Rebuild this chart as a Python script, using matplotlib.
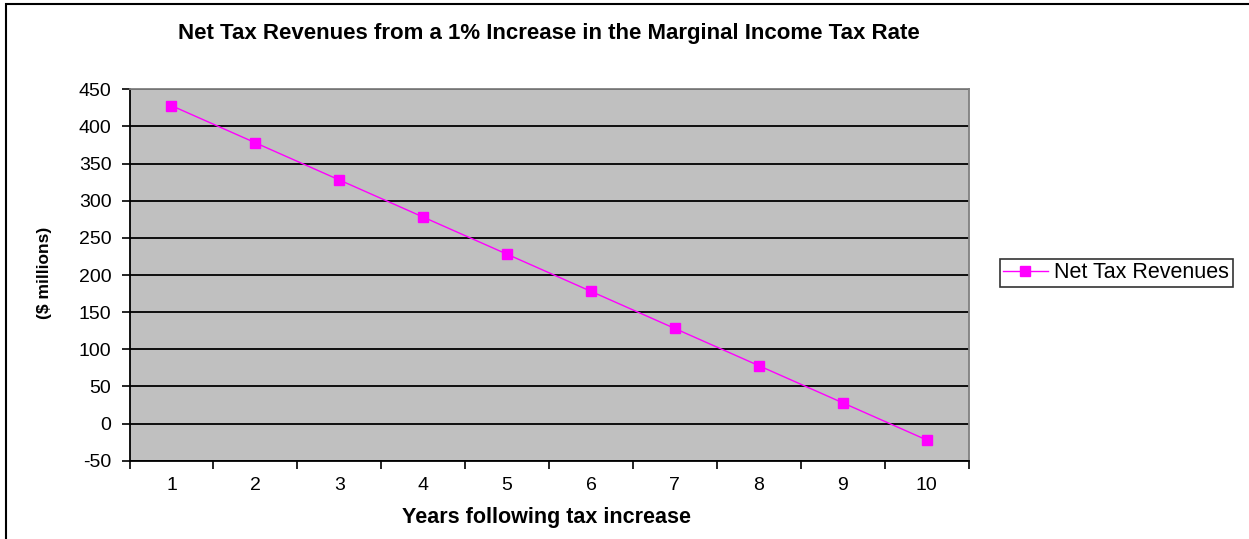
import matplotlib
matplotlib.use("Agg")
import matplotlib.pyplot as plt
from matplotlib.patches import Rectangle
import numpy as np

years = [1, 2, 3, 4, 5, 6, 7, 8, 9, 10]
net_tax_revenues = [428, 378, 328, 278, 228, 178, 128, 78, 28, -22]
y_ticks = [-50, 0, 50, 100, 150, 200, 250, 300, 350, 400, 450]
title = "Net Tax Revenues from a 1% Increase in the Marginal Income Tax Rate"
series_name = "Net Tax Revenues"
x_label = "Years following tax increase"
y_label = "($ millions)"

plt.rcParams['font.family'] = ['Liberation Sans', 'DejaVu Sans']
plt.rcParams['axes.unicode_minus'] = False

W, H = 1249, 539
fig = plt.figure(figsize=(W / 100, H / 100), dpi=100)
fig.patch.set_facecolor("white")

# outer chart border (only left/top visible in the reference)
fig.add_artist(Rectangle((6 / W, -0.1), 1.2, (539 - 4) / H + 0.1,
                         transform=fig.transFigure, fill=False,
                         edgecolor="black", linewidth=1.5))

ax = fig.add_axes([129.5 / W, 78.3 / H, (968.5 - 129.5) / W, (460.7 - 89.3) / H])
ax.set_facecolor("#C0C0C0")

ax.plot(years, net_tax_revenues, color="#FF00FF", linewidth=1.0,
        marker="s", markersize=6.5, markerfacecolor="#FF00FF",
        markeredgecolor="#FF00FF", label=series_name, zorder=3)

ax.set_xlim(0.5, 10.5)
ax.set_ylim(-50, 450)
ax.set_yticks(y_ticks)
ax.set_xticks(np.arange(0.5, 11, 1.0))
ax.set_xticklabels([])
ax.set_xticks(years, minor=True)
ax.set_xticklabels([str(y) for y in years], minor=True, fontsize=14)
ax.tick_params(axis="x", which="minor", length=0, pad=12)
ax.tick_params(axis="x", which="major", length=6, width=1.2, direction="out", color="black")
ax.tick_params(axis="y", length=6, width=1.2, direction="out", labelsize=14, pad=7)

ax.yaxis.grid(True, color="black", linewidth=1.3)
ax.set_axisbelow(True)

for s in ["left", "bottom"]:
    ax.spines[s].set_color("black")
    ax.spines[s].set_linewidth(1.3)
for s in ["top", "right"]:
    ax.spines[s].set_color("#808080")
    ax.spines[s].set_linewidth(1.3)

fig.text(549 / W, 1 - 34 / H, title, ha="center", va="center",
         fontsize=16, fontweight="bold")
fig.text(547 / W, 1 - 517 / H, x_label, ha="center", va="center",
         fontsize=15.5, fontweight="bold")
fig.text(45 / W, 1 - 273 / H, y_label, ha="center", va="center",
         rotation=90, fontsize=12.5, fontweight="bold")

leg = fig.legend(loc="center", bbox_to_anchor=(1116 / W, 1 - 273 / H),
                 fontsize=15.5, frameon=True, fancybox=False,
                 edgecolor="black", borderpad=0.15, handlelength=2.1,
                 handletextpad=0.3, borderaxespad=0)
leg.get_frame().set_linewidth(1.2)

fig.savefig("out.png", dpi=100)
